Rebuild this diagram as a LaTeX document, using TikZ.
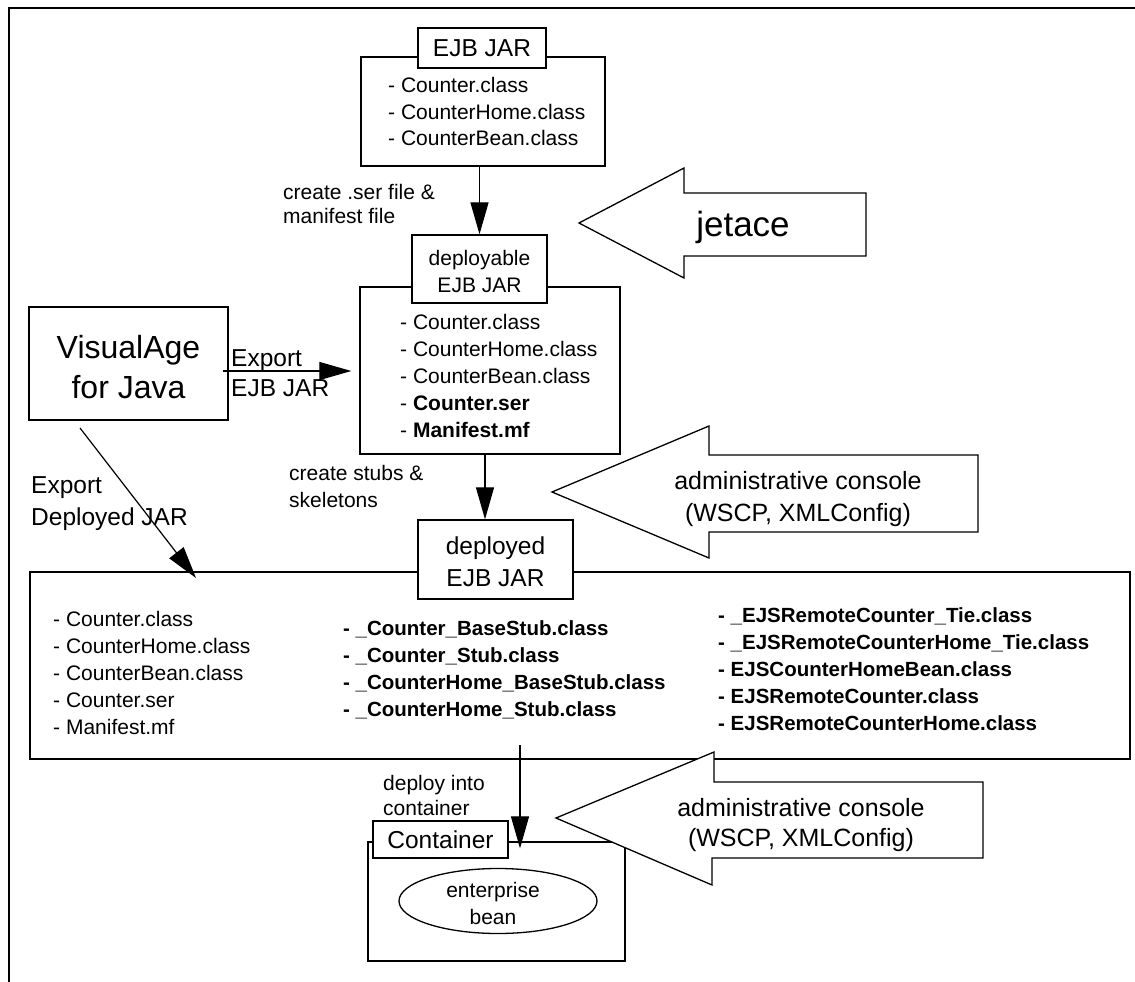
\documentclass[tikz,border=0pt]{standalone}
\usepackage{fontspec}
\setmainfont{Liberation Sans}
\usetikzlibrary{arrows.meta,shapes.geometric,calc}
\begin{document}
\begin{tikzpicture}[x=1pt,y=-1pt,
  box/.style={draw, line width=1.3pt, inner sep=0pt},
  tbox/.style={box, fill=white},
  li/.style={inner sep=0pt, anchor=west, text height=15pt, text depth=0pt, font=\fontsize{21}{25}\selectfont},
  lib/.style={inner sep=0pt, anchor=west, text height=15pt, text depth=0pt, font=\fontsize{20.5}{25}\selectfont\bfseries},
  cc/.style={inner sep=0pt, text height=15pt, text depth=0pt, font=\fontsize{21}{25}\selectfont},
  mid/.style={inner sep=0pt, text height=17.5pt, text depth=0pt, font=\fontsize{24.5}{30}\selectfont},
  midl/.style={mid, anchor=west},
  big/.style={inner sep=0pt, text height=23pt, text depth=0pt, font=\fontsize{32}{40}\selectfont},
  adm/.style={inner sep=0pt, text height=18pt, text depth=0pt, font=\fontsize{25}{30}\selectfont},
  arr/.style={line width=1.2pt, -{Triangle[length=32pt,width=18pt]}},
  fat/.style={draw, line width=1.3pt, fill=white, line join=miter}]
\useasboundingbox (0,0) rectangle (1135,982);

% frame
\draw[line width=1.3pt] (9,982) -- (9,8) -- (1135,8);

% EJB JAR
\node[box, minimum width=244pt, minimum height=109pt] (ejb) at (483,111.5) {};
\node[tbox, mid, minimum width=128pt, minimum height=40pt] (ejbT) at (482,48) {EJB JAR};
\node[li] (e1) at (388,85) {- Counter.class};
\node[li] (e2) at (388,112) {- CounterHome.class};
\node[li] (e3) at (388,138) {- CounterBean.class};

% jetace arrow
\draw[fat] (866,193) -- (684,193) -- (684,168) -- (579,223) -- (684,278) -- (684,256) -- (866,256) -- cycle;
\node[inner sep=0pt, font=\fontsize{35}{40}\selectfont] (jet) at (743,227) {jetace};

% deployable EJB JAR
\node[box, minimum width=260pt, minimum height=167pt] (dpl) at (490,370.5) {};
\node[tbox, minimum width=135pt, minimum height=68pt] (dplT) at (479.5,269) {};
\node[cc] (dt1) at (479.5,258) {deployable};
\node[cc] (dt2) at (479.5,285) {EJB JAR};
\node[li] (d1) at (400,322) {- Counter.class};
\node[li] (d2) at (400,349) {- CounterHome.class};
\node[li] (d3) at (400,376) {- CounterBean.class};
\node[li] (d4) at (400,403) {- \textbf{Counter.ser}};
\node[li] (d5) at (400,430) {- \textbf{Manifest.mf}};

\draw[arr] (ejb.south -| dplT.north) -- (dplT.north);
\node[li] (c1) at (283,192) {create .ser file \&};
\node[li] (c2) at (283,216) {manifest file};

% VisualAge
\node[box, minimum width=199pt, minimum height=113pt] (vis) at (128.5,363.5) {};
\node[big] (v1) at (128.5,347) {VisualAge};
\node[big] (v2) at (128.5,387) {for Java};

\draw[arr] ([xshift=-6pt,yshift=-7.5pt]vis.east) -- ([xshift=-8pt,yshift=-7.5pt]vis.east -| dpl.west);
\node[midl] (x1) at (231,358) {Export};
\node[midl] (x2) at (231,388) {EJB JAR};

% Export Deployed JAR
\coordinate (edS) at (80,428);
\coordinate (edE) at (196,578);
\node[midl] (y1) at (31,485) {Export};
\node[midl] (y2) at (31,517) {Deployed JAR};

% admin arrow 1
\draw[fat] (978,455) -- (709,455) -- (709,426) -- (552,492) -- (709,558) -- (709,532) -- (978,532) -- cycle;
\node[adm] (a1) at (798,480) {administrative console};
\node[adm] (a2) at (798,512) {(WSCP, XMLConfig)};

% deployed EJB JAR
\node[box, minimum width=1100pt, minimum height=187pt] (bigb) at (580,665.5) {};
\node[tbox, minimum width=155pt, minimum height=79pt] (dedT) at (495.5,559.5) {};
\node[mid] (dd1) at (495.5,546) {deployed};
\node[mid] (dd2) at (495.5,578) {EJB JAR};

\draw[arr] (edS) -- (edE);
\draw[arr] ([xshift=-5pt]dpl.south) -- ([xshift=-5pt]dpl.south |- dedT.north);
\node[li] (s1) at (289,473) {create stubs \&};
\node[li] (s2) at (289,500) {skeletons};

\node[li] (L1) at (53,619) {- Counter.class};
\node[li] (L2) at (53,646) {- CounterHome.class};
\node[li] (L3) at (53,673) {- CounterBean.class};
\node[li] (L4) at (53,700) {- Counter.ser};
\node[li] (L5) at (53,727) {- Manifest.mf};

\node[lib] (M1) at (343,628) {- \_Counter\_BaseStub.class};
\node[lib] (M2) at (343,655) {- \_Counter\_Stub.class};
\node[lib] (M3) at (343,682) {- \_CounterHome\_BaseStub.class};
\node[lib] (M4) at (343,709) {- \_CounterHome\_Stub.class};

\node[lib] (R1) at (718,615) {- \_EJSRemoteCounter\_Tie.class};
\node[lib] (R2) at (718,642) {- \_EJSRemoteCounterHome\_Tie.class};
\node[lib] (R3) at (718,669) {- EJSCounterHomeBean.class};
\node[lib] (R4) at (718,696) {- EJSRemoteCounter.class};
\node[lib] (R5) at (718,723) {- EJSRemoteCounterHome.class};

% container
\node[li] (dp1) at (383,783) {deploy into};
\node[li] (dp2) at (383,808) {container};
\node[box, minimum width=257pt, minimum height=119pt] (cont) at (496.5,901.5) {};
\node[tbox, mid, minimum width=135pt, minimum height=37pt] (contT) at (440.5,839.5) {Container};
\node[draw, ellipse, line width=1.3pt, minimum width=198pt, minimum height=65pt, inner sep=0pt] (bean) at (498,901) {};
\node[cc] (b1) at (493,890) {enterprise};
\node[cc] (b2) at (493,917) {bean};
\coordinate (dS) at (520,745);
\draw[arr] (dS) -- ($(dS |- cont.north)+(0,7)$);

% admin arrow 2
\draw[fat] (983,782) -- (714,782) -- (714,752) -- (556,818) -- (712,885) -- (712,858) -- (983,858) -- cycle;
\node[adm] (a3) at (801,807) {administrative console};
\node[adm] (a4) at (801,837) {(WSCP, XMLConfig)};
\end{tikzpicture}
\end{document}
